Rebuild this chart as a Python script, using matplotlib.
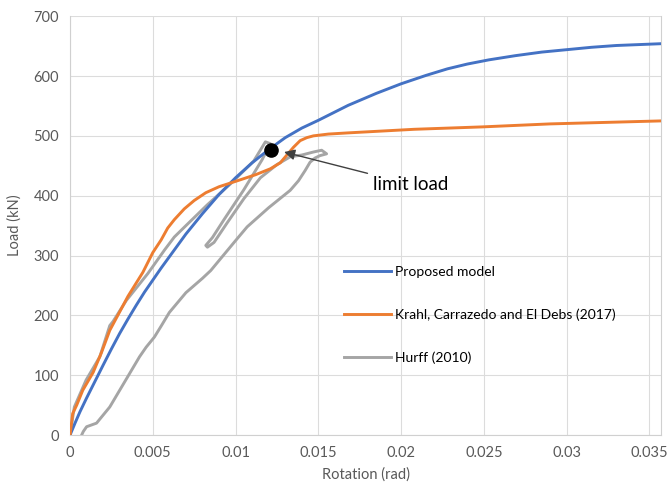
import matplotlib
matplotlib.use("Agg")
import matplotlib.pyplot as plt

plt.rcParams['font.family'] = ['Lato', 'DejaVu Sans']

# Proposed model
prop_x = [0, 0.0003, 0.0006, 0.001, 0.0014, 0.002, 0.0025, 0.003, 0.0035, 0.004, 0.0045,
          0.005, 0.0055, 0.006, 0.0065, 0.007, 0.0075, 0.008, 0.0085, 0.009, 0.0095, 0.01,
          0.011, 0.012, 0.013, 0.014, 0.015, 0.0168, 0.0185, 0.02, 0.0215, 0.0228, 0.024,
          0.0253, 0.0269, 0.0285, 0.03, 0.0315, 0.033, 0.0357]
prop_y = [0, 20, 39, 62, 84, 117, 144, 170, 194, 217, 239,
          259, 279, 298, 317, 336, 353, 370, 386, 402, 416, 430,
          455, 477, 497, 513, 526, 551, 571, 587, 601, 612, 620,
          627, 634, 640, 644, 648, 651, 654]

# Krahl, Carrazedo and El Debs (2017)
krahl_x = [0, 0.00016, 0.0004, 0.00077, 0.0014, 0.0019, 0.0024, 0.003, 0.0035, 0.0044,
           0.005, 0.0055, 0.0059, 0.0063, 0.0069, 0.0075, 0.0082, 0.009, 0.01, 0.0112,
           0.0121, 0.0127, 0.0131, 0.0135, 0.0139, 0.0143, 0.0147, 0.0156, 0.0168, 0.0208,
           0.0249, 0.029, 0.0357]
krahl_y = [0, 36, 50, 75, 105, 138, 175, 206, 232, 272,
           305, 326, 346, 360, 378, 392, 405, 415, 424, 435,
           445, 455, 468, 481, 492, 497, 500, 503, 505, 511,
           515, 520, 525]

# Hurff (2010) test curve
hurff_x = [0, 0.00026, 0.00097, 0.0018, 0.0024, 0.0026, 0.0034, 0.0047, 0.0057, 0.0063,
           0.007, 0.0083, 0.0097, 0.0111, 0.0118, 0.0121, 0.0116, 0.0105, 0.0093, 0.0086,
           0.0082, 0.0083, 0.0087, 0.0095, 0.0105, 0.0115, 0.0125, 0.0133, 0.014, 0.0147,
           0.0152, 0.0155, 0.0151, 0.0148, 0.0145, 0.0142, 0.0138, 0.0133, 0.012, 0.0107,
           0.01, 0.0085, 0.008, 0.007, 0.006, 0.0055, 0.0051, 0.0046, 0.0042, 0.0036,
           0.003, 0.0024, 0.0016, 0.001, 0.0008, 0.0007]
hurff_y = [0, 47, 92, 131, 183, 190, 225, 270, 309, 331,
           350, 385, 420, 458, 490, 487, 460, 410, 360, 330,
           317, 314, 322, 355, 395, 430, 452, 465, 468, 473,
           476, 470, 467, 463, 456, 442, 425, 409, 380, 348,
           325, 275, 262, 238, 205, 182, 164, 147, 131, 103,
           75, 47, 20, 14, 6, 0]

limit_x = 0.01216
limit_y = 476

fig = plt.figure(figsize=(6.67, 4.9), dpi=100)
ax = fig.add_axes([0.105, 0.112, 0.886, 0.855])

ax.plot(prop_x, prop_y, color='#4472C4', lw=2.1, label='Proposed model', zorder=3,
        solid_joinstyle='round')
ax.plot(krahl_x, krahl_y, color='#ED7D31', lw=2.1, label='Krahl, Carrazedo and El Debs (2017)',
        zorder=3, solid_joinstyle='round')
ax.plot(hurff_x, hurff_y, color='#A5A5A5', lw=2.1, label='Hurff (2010)', zorder=2,
        solid_joinstyle='round')

ax.plot([limit_x], [limit_y], 'o', color='black', ms=9.5, zorder=5)
ax.annotate('limit load', xy=(0.01293, 473), xytext=(0.0183, 419),
            fontsize=13.5, va='center', ha='left',
            arrowprops=dict(arrowstyle='-|>', color='#404040', lw=1.0,
                            mutation_scale=16, shrinkA=2, shrinkB=0))

ax.set_xlim(0, 0.0357)
ax.set_ylim(0, 700)
ax.set_xticks([0, 0.005, 0.01, 0.015, 0.02, 0.025, 0.03, 0.035])
ax.set_xticklabels(['0', '0.005', '0.01', '0.015', '0.02', '0.025', '0.03', '0.035'])
ax.set_yticks(range(0, 701, 100))
ax.grid(True, color='#dcdcdc', lw=0.8)
ax.set_axisbelow(True)
ax.spines['top'].set_visible(False)
for s in ['left', 'bottom', 'right']:
    ax.spines[s].set_color('#d0d0d0')
ax.tick_params(axis='x', length=0, labelsize=10.5, colors='#595959', pad=8)
ax.tick_params(axis='y', length=0, labelsize=10.5, colors='#595959', pad=8)

ax.set_xlabel('Rotation (rad)', fontsize=10.5, color='#595959')
ax.set_ylabel('Load (kN)', fontsize=10.5, color='#595959')
ax.xaxis.set_label_coords(0.5, -0.077)
ax.yaxis.set_label_coords(-0.082, 0.5)

ax.legend(loc='upper left', bbox_to_anchor=(0.505, 0.472), bbox_transform=fig.transFigure,
          frameon=False, fontsize=10, handlelength=3.4, handletextpad=0.3,
          labelspacing=2.2, borderpad=0)

fig.savefig('out.png', dpi=100)
